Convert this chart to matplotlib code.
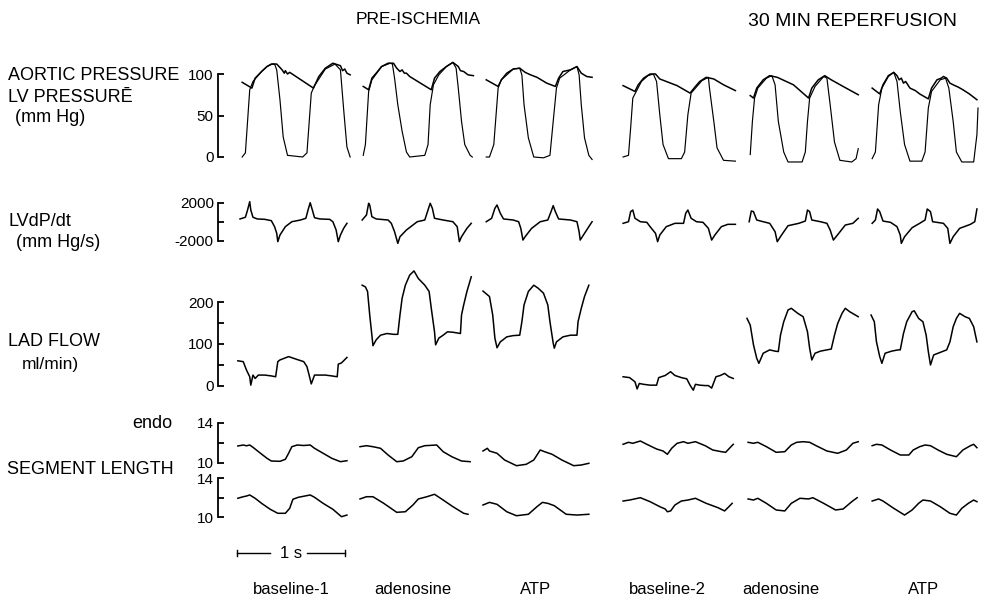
import numpy as np
import matplotlib.pyplot as plt

plt.rcParams['font.family'] = ['Liberation Sans', 'DejaVu Sans']

# ---- data (time in s, values in physical units), one list per panel ----
conditions = ['baseline-1', 'adenosine', 'ATP', 'baseline-2', 'adenosine', 'ATP']
groups = ['PRE-ISCHEMIA', '30 MIN REPERFUSION']

# aortic pressure (mm Hg)
ao_t = [
    [0.02, 0.11, 0.14, 0.20, 0.25, 0.29, 0.34, 0.39, 0.41, 0.42, 0.44, 0.46, 0.68, 0.73, 0.79, 0.86, 0.93, 0.95, 0.97, 0.99, 1.02],
    [0.03, 0.08, 0.11, 0.15, 0.20, 0.26, 0.31, 0.34, 0.37, 0.39, 0.41, 0.43, 0.46, 0.66, 0.69, 0.74, 0.80, 0.86, 0.91, 0.93, 0.96, 1.00, 1.05],
    [0.03, 0.14, 0.17, 0.22, 0.28, 0.34, 0.39, 0.44, 0.50, 0.59, 0.67, 0.70, 0.74, 0.81, 0.87, 0.91, 0.96, 1.01],
    [0.01, 0.12, 0.15, 0.20, 0.26, 0.31, 0.35, 0.51, 0.63, 0.68, 0.72, 0.78, 0.85, 0.94, 1.05],
    [0.03, 0.06, 0.09, 0.15, 0.21, 0.28, 0.43, 0.57, 0.60, 0.66, 0.72, 0.78, 0.89, 1.03],
    [0.02, 0.09, 0.12, 0.17, 0.22, 0.25, 0.27, 0.29, 0.31, 0.33, 0.37, 0.42, 0.46, 0.54, 0.57, 0.62, 0.66, 0.68, 0.71, 0.74, 0.77, 0.82, 0.86, 0.92, 0.99],
]
ao_v = [
    [90, 83, 95, 103, 109, 112, 112, 105, 101, 104, 100, 102, 83, 97, 107, 113, 110, 104, 106, 101, 99],
    [85, 81, 95, 101, 109, 113, 113, 107, 103, 105, 101, 101, 97, 81, 95, 103, 109, 114, 109, 104, 103, 99, 98],
    [93, 85, 93, 101, 106, 107, 102, 99, 96, 89, 85, 95, 103, 105, 109, 101, 97, 96],
    [86, 79, 87, 95, 100, 100, 94, 86, 77, 85, 91, 96, 94, 87, 80],
    [74, 71, 83, 93, 98, 96, 87, 71, 83, 93, 98, 93, 85, 75],
    [83, 76, 87, 98, 102, 98, 93, 95, 89, 91, 83, 80, 76, 70, 83, 93, 95, 97, 95, 89, 87, 84, 81, 76, 69],
]

# LV pressure (mm Hg)
lv_t = [
    [0.02, 0.05, 0.09, 0.12, 0.20, 0.25, 0.30, 0.32, 0.34, 0.37, 0.40, 0.44, 0.58, 0.62, 0.66, 0.69, 0.79, 0.88, 0.93, 0.96, 0.99, 1.02],
    [0.03, 0.05, 0.08, 0.11, 0.20, 0.28, 0.30, 0.32, 0.35, 0.39, 0.43, 0.46, 0.60, 0.63, 0.65, 0.68, 0.73, 0.80, 0.86, 0.89, 0.91, 0.94, 0.97, 1.02, 1.04],
    [0.03, 0.06, 0.10, 0.14, 0.17, 0.28, 0.34, 0.36, 0.38, 0.42, 0.47, 0.56, 0.62, 0.65, 0.68, 0.71, 0.81, 0.87, 0.89, 0.91, 0.94, 0.98, 1.01],
    [0.01, 0.06, 0.08, 0.10, 0.14, 0.18, 0.24, 0.29, 0.32, 0.35, 0.38, 0.43, 0.55, 0.58, 0.61, 0.64, 0.68, 0.74, 0.80, 0.81, 0.85, 0.88, 0.94, 1.05],
    [0.03, 0.05, 0.07, 0.10, 0.18, 0.23, 0.26, 0.29, 0.34, 0.38, 0.51, 0.54, 0.56, 0.58, 0.63, 0.71, 0.74, 0.77, 0.81, 0.86, 0.97, 1.01, 1.03],
    [0.02, 0.05, 0.08, 0.11, 0.17, 0.22, 0.25, 0.28, 0.32, 0.37, 0.48, 0.51, 0.54, 0.57, 0.65, 0.70, 0.73, 0.77, 0.80, 0.85, 0.96, 0.99, 1.00],
]
lv_v = [
    [0, 5, 81, 91, 103, 109, 112, 112, 105, 69, 24, 2, 0, 5, 77, 86, 106, 112, 105, 57, 12, 0],
    [2, 15, 79, 93, 109, 113, 112, 95, 63, 31, 6, 0, 2, 15, 63, 87, 99, 109, 114, 107, 83, 43, 15, 2, 0],
    [0, 0, 15, 83, 93, 106, 107, 99, 63, 23, 0, -1, 2, 43, 83, 95, 105, 109, 99, 63, 23, 2, -3],
    [0, 2, 35, 71, 81, 91, 98, 100, 91, 51, 15, -2, -2, 6, 51, 77, 83, 92, 96, 83, 43, 11, -4, -5],
    [3, 43, 71, 83, 95, 98, 87, 43, 6, -6, -6, 6, 43, 71, 85, 97, 95, 63, 18, -4, -6, -2, 10],
    [-2, 6, 63, 83, 97, 102, 91, 55, 15, -5, -5, 6, 59, 79, 93, 95, 83, 43, 6, -6, -6, 27, 59],
]

# LV dP/dt (mm Hg/s)
dp_t = [
    [0.00, 0.05, 0.07, 0.09, 0.10, 0.12, 0.16, 0.23, 0.29, 0.32, 0.34, 0.35, 0.37, 0.42, 0.48, 0.56, 0.61, 0.63, 0.65, 0.67, 0.69, 0.74, 0.83, 0.86, 0.89, 0.91, 0.93, 0.96, 0.99],
    [0.02, 0.06, 0.08, 0.09, 0.11, 0.15, 0.26, 0.29, 0.32, 0.35, 0.37, 0.43, 0.53, 0.60, 0.62, 0.65, 0.67, 0.69, 0.77, 0.86, 0.90, 0.92, 0.94, 0.99, 1.03],
    [0.03, 0.08, 0.11, 0.13, 0.16, 0.19, 0.28, 0.33, 0.35, 0.37, 0.39, 0.45, 0.53, 0.60, 0.63, 0.65, 0.67, 0.70, 0.81, 0.87, 0.89, 0.90, 0.93, 0.98, 1.01],
    [0.01, 0.06, 0.08, 0.10, 0.12, 0.17, 0.23, 0.26, 0.31, 0.33, 0.35, 0.41, 0.49, 0.57, 0.59, 0.61, 0.64, 0.69, 0.75, 0.80, 0.83, 0.86, 0.92, 0.98, 1.05],
    [0.02, 0.04, 0.06, 0.09, 0.15, 0.21, 0.26, 0.28, 0.32, 0.38, 0.48, 0.54, 0.56, 0.58, 0.60, 0.68, 0.74, 0.77, 0.80, 0.85, 0.91, 0.98, 1.03],
    [0.02, 0.05, 0.07, 0.09, 0.12, 0.19, 0.25, 0.28, 0.29, 0.32, 0.39, 0.46, 0.51, 0.53, 0.56, 0.58, 0.68, 0.72, 0.74, 0.77, 0.83, 0.93, 0.97, 0.99],
]
dp_v = [
    [320, 500, 1260, 2140, 1260, 500, 320, 280, 140, -490, -1190, -2070, -1370, -490, 30, 210, 390, 1260, 2030, 1260, 450, 320, 280, 30, -840, -2070, -1370, -660, -140],
    [210, 740, 1970, 1790, 560, 320, 210, -140, -1020, -2250, -1550, -840, 30, 210, 920, 1970, 1440, 390, 210, 30, -490, -2070, -1550, -670, -140],
    [30, 390, 1440, 1790, 920, 320, 210, 30, -670, -1900, -1550, -670, 30, 210, 1090, 1720, 1090, 320, 210, 30, -1020, -1900, -1370, -490, 30],
    [-140, 30, 1090, 1260, 390, 30, -35, -490, -1190, -2070, -1370, -490, -140, -140, 920, 1260, 390, 30, -35, -670, -1900, -1370, -490, -245, -245],
    [30, 1160, 1090, 210, 30, -140, -1020, -2070, -1370, -390, -140, 100, 1260, 1090, 210, 30, -140, -840, -1900, -1190, -320, -140, 390],
    [-140, 210, 1370, 1090, 100, -35, -490, -1370, -2250, -1550, -600, -140, 210, 1370, 1090, 30, -140, -670, -2250, -1550, -670, -245, 30, 1370],
]

# LAD flow (ml/min)
fl_t = [
    [-0.02, 0.03, 0.06, 0.09, 0.10, 0.12, 0.14, 0.17, 0.23, 0.29, 0.33, 0.35, 0.37, 0.45, 0.53, 0.59, 0.62, 0.64, 0.66, 0.69, 0.73, 0.79, 0.85, 0.90, 0.91, 0.94, 0.99],
    [0.02, 0.05, 0.07, 0.09, 0.11, 0.12, 0.15, 0.19, 0.25, 0.31, 0.35, 0.37, 0.39, 0.42, 0.46, 0.50, 0.54, 0.60, 0.64, 0.66, 0.69, 0.70, 0.73, 0.77, 0.81, 0.86, 0.93, 0.94, 0.96, 0.99, 1.03],
    [0.00, 0.06, 0.09, 0.11, 0.13, 0.16, 0.22, 0.28, 0.34, 0.36, 0.38, 0.42, 0.47, 0.51, 0.56, 0.60, 0.62, 0.65, 0.66, 0.68, 0.74, 0.81, 0.87, 0.88, 0.91, 0.94, 0.98],
    [0.01, 0.07, 0.12, 0.14, 0.16, 0.20, 0.26, 0.32, 0.34, 0.40, 0.45, 0.49, 0.55, 0.60, 0.63, 0.66, 0.68, 0.72, 0.77, 0.80, 0.83, 0.87, 0.91, 0.95, 0.99, 1.03],
    [0.00, 0.03, 0.06, 0.09, 0.11, 0.15, 0.21, 0.26, 0.29, 0.31, 0.34, 0.38, 0.41, 0.47, 0.52, 0.56, 0.58, 0.60, 0.63, 0.68, 0.74, 0.78, 0.81, 0.84, 0.88, 0.91, 0.95, 1.03],
    [0.01, 0.04, 0.06, 0.09, 0.11, 0.14, 0.20, 0.26, 0.28, 0.31, 0.34, 0.39, 0.41, 0.45, 0.49, 0.52, 0.54, 0.56, 0.59, 0.65, 0.71, 0.74, 0.77, 0.80, 0.83, 0.88, 0.92, 0.96, 0.99],
]
fl_v = [
    [60, 58, 38, 22, 2, 26, 18, 26, 26, 24, 22, 58, 62, 70, 63, 58, 46, 26, 5, 26, 26, 26, 24, 22, 52, 55, 68],
    [240, 236, 225, 169, 121, 96, 110, 121, 125, 123, 123, 169, 209, 240, 264, 274, 256, 240, 225, 185, 129, 98, 114, 121, 129, 128, 125, 169, 193, 225, 260],
    [226, 213, 169, 114, 91, 105, 117, 120, 121, 153, 193, 225, 240, 233, 221, 193, 153, 102, 90, 105, 117, 121, 121, 153, 185, 213, 240],
    [22, 20, 10, -7, 6, 4, 2, 2, 20, 25, 34, 25, 20, 17, 2, -10, 4, 2, 1, 1, -5, 22, 25, 30, 22, 18],
    [161, 145, 98, 66, 54, 78, 86, 83, 82, 121, 153, 181, 185, 173, 165, 129, 90, 62, 78, 83, 86, 88, 121, 149, 173, 185, 177, 165],
    [169, 153, 105, 70, 54, 78, 83, 86, 86, 125, 153, 177, 179, 161, 153, 121, 82, 50, 74, 80, 86, 105, 141, 161, 173, 165, 161, 141, 105],
]

# segment length, endo (mm)
en_t = [
    [-0.02, 0.03, 0.06, 0.09, 0.12, 0.19, 0.25, 0.29, 0.37, 0.42, 0.45, 0.48, 0.53, 0.59, 0.65, 0.69, 0.77, 0.85, 0.93, 0.99],
    [0.00, 0.06, 0.12, 0.19, 0.26, 0.34, 0.40, 0.48, 0.54, 0.60, 0.71, 0.77, 0.85, 0.94, 1.02],
    [0.00, 0.04, 0.06, 0.13, 0.20, 0.31, 0.40, 0.47, 0.53, 0.57, 0.64, 0.73, 0.84, 0.91, 0.98],
    [0.01, 0.06, 0.10, 0.17, 0.23, 0.32, 0.38, 0.42, 0.46, 0.51, 0.57, 0.61, 0.68, 0.77, 0.84, 0.92, 0.96, 1.00, 1.03],
    [0.01, 0.06, 0.10, 0.18, 0.27, 0.35, 0.41, 0.46, 0.52, 0.58, 0.64, 0.74, 0.84, 0.92, 0.98, 1.03],
    [0.02, 0.06, 0.11, 0.19, 0.28, 0.36, 0.40, 0.46, 0.51, 0.56, 0.63, 0.71, 0.80, 0.86, 0.93, 0.96, 0.99],
]
en_v = [
    [11.7, 11.8, 11.72, 11.8, 11.57, 10.97, 10.47, 10.2, 10.17, 10.37, 10.97, 11.63, 11.8, 11.75, 11.8, 11.47, 10.97, 10.47, 10.13, 10.23],
    [11.63, 11.73, 11.63, 11.47, 10.8, 10.13, 10.2, 10.63, 11.53, 11.73, 11.8, 11.13, 10.63, 10.2, 10.13],
    [11.2, 11.47, 11.2, 10.97, 10.3, 9.73, 9.87, 10.3, 11.3, 11.13, 10.87, 10.3, 9.73, 9.8, 9.97],
    [11.87, 12.07, 11.97, 12.2, 11.87, 11.4, 11.2, 10.87, 11.47, 11.97, 12.13, 11.97, 12.13, 11.73, 11.3, 11.13, 11.07, 11.53, 11.87],
    [12.07, 11.97, 12.07, 11.63, 11.07, 11.13, 11.8, 12.07, 12.13, 12.07, 11.73, 11.2, 10.97, 11.3, 11.97, 12.13],
    [11.73, 11.87, 11.8, 11.3, 10.8, 10.8, 11.3, 11.63, 11.8, 11.73, 11.3, 10.87, 10.63, 11.3, 11.73, 11.87, 11.53],
]

# segment length, epi (mm)
ep_t = [
    [-0.02, 0.03, 0.06, 0.09, 0.14, 0.20, 0.28, 0.35, 0.42, 0.46, 0.49, 0.54, 0.60, 0.65, 0.69, 0.77, 0.86, 0.94, 0.99],
    [0.00, 0.06, 0.12, 0.22, 0.34, 0.42, 0.49, 0.54, 0.62, 0.69, 0.77, 0.86, 0.96, 1.00],
    [0.00, 0.06, 0.13, 0.22, 0.31, 0.42, 0.50, 0.55, 0.60, 0.66, 0.77, 0.87, 0.98],
    [0.01, 0.07, 0.17, 0.26, 0.35, 0.40, 0.42, 0.45, 0.49, 0.55, 0.61, 0.68, 0.78, 0.89, 0.95, 0.99, 1.02],
    [0.01, 0.06, 0.10, 0.18, 0.27, 0.35, 0.41, 0.49, 0.57, 0.61, 0.71, 0.82, 0.89, 0.97, 1.02],
    [0.02, 0.08, 0.12, 0.22, 0.32, 0.39, 0.45, 0.49, 0.56, 0.65, 0.74, 0.80, 0.85, 0.91, 0.96, 0.99],
]
ep_v = [
    [11.92, 12.08, 12.15, 12.26, 11.92, 11.4, 10.79, 10.38, 10.38, 10.89, 11.82, 12.02, 12.15, 12.26, 12.02, 11.4, 10.79, 10.03, 10.2],
    [11.85, 12.08, 12.08, 11.4, 10.48, 10.54, 11.23, 11.85, 12.08, 12.33, 11.74, 11.06, 10.38, 10.28],
    [11.23, 11.5, 11.3, 10.54, 10.13, 10.28, 11.06, 11.5, 11.4, 11.16, 10.28, 10.2, 10.28],
    [11.64, 11.74, 11.98, 11.57, 11.06, 10.82, 10.54, 10.62, 11.23, 11.64, 11.74, 11.92, 11.4, 10.95, 10.62, 11.06, 11.4],
    [11.85, 11.74, 11.92, 11.4, 10.72, 10.62, 11.4, 11.92, 11.85, 11.98, 11.4, 10.72, 10.82, 11.57, 11.98],
    [11.64, 11.85, 11.64, 10.89, 10.2, 10.72, 11.4, 11.74, 11.64, 11.06, 10.38, 10.2, 10.89, 11.4, 11.74, 11.57],
]

# ---- layout (pixels of a 987x610 canvas) ----
W, H = 987, 610
SEC = 108                                   # px per second
col_x0 = [240, 360, 483, 622, 747, 870]     # px of t = 0 in each column
# (ylim, value a, px a, value b, px b)
rows = [
    ((-10, 125), 0, 157, 100, 74),
    ((-2600, 2600), -2000, 241, 2000, 203),
    ((-20, 290), 0, 386, 200, 302),
    ((9.4, 14.2), 10, 463, 14, 423),
    ((9.8, 14.2), 10, 517, 14, 478),
]

fig = plt.figure(figsize=(W / 100, H / 100), dpi=100)


def row_px(i):
    (lo, hi), va, pa, vb, pb = rows[i]
    k = (pb - pa) / (vb - va)
    return pa + k * (lo - va), pa + k * (hi - va)


def panel(c, i):
    bot, top = row_px(i)
    left = col_x0[c] - 0.05 * SEC
    ax = fig.add_axes([left / W, 1 - bot / H, 1.15 * SEC / W, (bot - top) / H])
    ax.set_xlim(-0.05, 1.10)
    ax.set_ylim(*rows[i][0])
    ax.axis('off')
    return ax


lw = 1.1
for c in range(6):
    ax = panel(c, 0)
    ax.plot(lv_t[c], lv_v[c], color='k', lw=0.85)
    ax.plot(ao_t[c], ao_v[c], color='k', lw=lw)
    panel(c, 1).plot(dp_t[c], dp_v[c], color='k', lw=lw)
    panel(c, 2).plot(fl_t[c], fl_v[c], color='k', lw=lw)
    panel(c, 3).plot(en_t[c], en_v[c], color='k', lw=lw)
    panel(c, 4).plot(ep_t[c], ep_v[c], color='k', lw=lw)


# calibration bars on the left
def scale_bar(i, ticks, labels, bounds):
    bot, top = row_px(i)
    ax = fig.add_axes([218 / W, 1 - bot / H, 10 / W, (bot - top) / H])
    ax.set_ylim(*rows[i][0])
    ax.patch.set_alpha(0)
    for s in ['top', 'right', 'bottom']:
        ax.spines[s].set_visible(False)
    ax.spines['left'].set_bounds(*bounds)
    ax.spines['left'].set_linewidth(1.3)
    ax.set_xticks([])
    ax.set_yticks(ticks, labels)
    ax.tick_params(axis='y', direction='in', length=4, width=1.3, pad=3, labelsize=11)


scale_bar(0, [0, 50, 100], ['0', '50', '100'], (0, 100))
scale_bar(1, [-2000, 0, 2000], ['-2000', '', '2000'], (-2000, 2000))
scale_bar(2, [0, 50, 100, 150, 200], ['0', '', '100', '', '200'], (0, 200))
scale_bar(3, [10, 12, 14], ['10', '', '14'], (10, 14))
scale_bar(4, [10, 12, 14], ['10', '', '14'], (10, 14))

# 1 s time bar
tb = fig.add_axes([(237 - 0.05 * SEC) / W, 1 - 566 / H, 1.15 * SEC / W, 26 / H])
tb.set_xlim(-0.05, 1.10)
tb.set_ylim(0, 1)
tb.axis('off')
tb.plot([0, 0.31], [0.5, 0.5], color='k', lw=1.0)
tb.plot([0.65, 1.0], [0.5, 0.5], color='k', lw=1.0)
tb.plot([0, 0], [0.4, 0.6], color='k', lw=1.0)
tb.plot([1.0, 1.0], [0.4, 0.6], color='k', lw=1.0)
tb.text(0.5, 0.5, '1 s', ha='center', va='center', fontsize=12)

# row labels
lab = dict(fontsize=13, va='center', ha='left')
fig.text(8 / W, 1 - 76 / H, 'AORTIC PRESSURE', **lab)
fig.text(8 / W, 1 - 97 / H, 'LV PRESSURĒ', **lab)
fig.text(15 / W, 1 - 117 / H, '(mm Hg)', **lab)
fig.text(8 / W, 1 - 222 / H, 'LVdP/dt', **lab)
fig.text(16 / W, 1 - 243 / H, '(mm Hg/s)', **lab)
fig.text(8 / W, 1 - 342 / H, 'LAD FLOW', **lab)
fig.text(22 / W, 1 - 364 / H, 'ml/min)', fontsize=12.5, va='center', ha='left')
fig.text(172 / W, 1 - 423 / H, 'endo', fontsize=13, va='center', ha='right')
fig.text(7 / W, 1 - 470 / H, 'SEGMENT LENGTH', **lab)

# group titles and condition labels
fig.text(418 / W, 1 - 20 / H, groups[0], fontsize=12.5, ha='center', va='center')
fig.text(853 / W, 1 - 22 / H, groups[1], fontsize=14, ha='center', va='center')
label_x = [291, 413, 536, 667, 781, 924]
for name, x in zip(conditions, label_x):
    fig.text(x / W, 1 - 589 / H, name, fontsize=12, ha='center', va='center')

plt.savefig('out.png', dpi=100)
